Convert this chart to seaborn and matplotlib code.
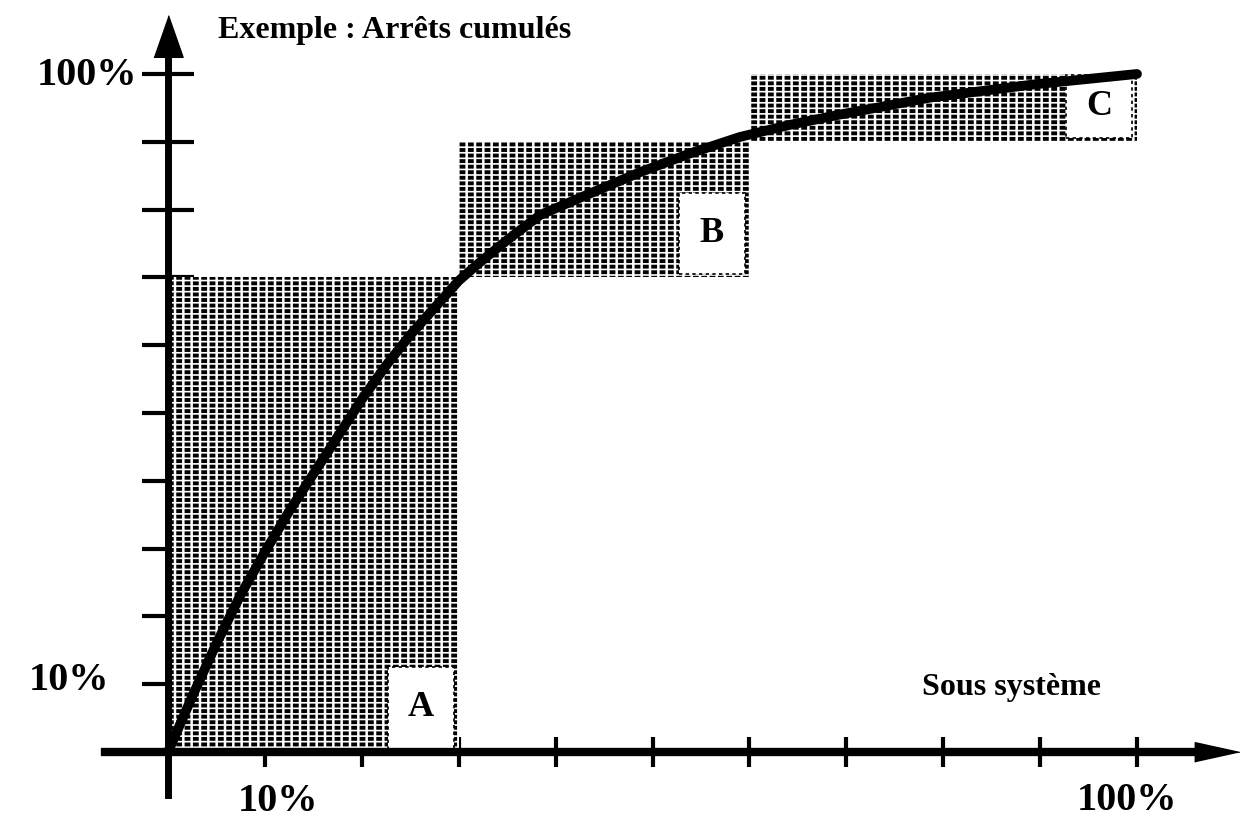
"""
Courbe ABC (Pareto) - arrêts cumulés par sous système
Libraries: matplotlib, seaborn
"""

import matplotlib
matplotlib.use("Agg")
import matplotlib.pyplot as plt
import seaborn as sns
from matplotlib.patches import Rectangle

# -------------------------------
# Data
# -------------------------------
pct_subsystems = [0, 2.5, 5, 7.5, 10, 12.5, 15, 17.5, 20, 22.5, 25, 27.5, 30,
                  32, 35, 38.4, 43.6, 48.7, 53.9, 59.0, 64.2, 69.3, 78.6, 89.0, 100]
pct_stops = [0, 8.2, 16, 23.2, 29.5, 35.5, 41, 46.5, 52, 57, 61.5, 65.5, 69.5,
             72.0, 75.5, 79.2, 82.4, 85.5, 88.3, 90.7, 92.5, 94.0, 96.5, 98.4, 100]

zone_labels = ["A", "B", "C"]
zone_x_end = [30, 60, 100]
zone_y_end = [70, 90, 100]

tick_values = [10, 20, 30, 40, 50, 60, 70, 80, 90, 100]

# -------------------------------
# Style settings
# -------------------------------
sns.set_theme(style="white")
plt.rcParams["font.family"] = ["Liberation Serif", "DejaVu Serif"]
plt.rcParams["font.weight"] = "bold"
plt.rcParams["text.color"] = "black"

fig = plt.figure(figsize=(12.43, 8.21), dpi=100)
ax = fig.add_axes([0, 0, 1, 1])
ax.set_xlim(-17.34, 110.94)
ax.set_ylim(-10.18, 110.91)

# -------------------------------
# Shaded zones A / B / C
# -------------------------------
x0, y0 = 0, 0
for label, x1, y1 in zip(zone_labels, zone_x_end, zone_y_end):
    with plt.rc_context({"hatch.linewidth": 4.2}):
        ax.add_patch(Rectangle((x0, y0), x1 - x0, y1 - y0, facecolor="white",
                               edgecolor="black", hatch="||", lw=0, zorder=1))
    with plt.rc_context({"hatch.linewidth": 1.2}):
        ax.add_patch(Rectangle((x0, y0), x1 - x0, y1 - y0, facecolor="none",
                               edgecolor="white", hatch="---", lw=0, zorder=1.1))
    # white label box at the bottom-right corner of the zone
    bw, bh = 6.8, min(12, y1 - y0 - 0.6)
    ax.add_patch(Rectangle((x1 - bw - 0.5, y0 + 0.5), bw, bh, facecolor="white",
                           edgecolor="black", ls=(0, (2, 2)), lw=1.2, zorder=1.5))
    ax.text(x1 - 0.5 - bw / 2, y0 + 0.5 + bh / 2, label, fontsize=26,
            fontweight="bold", ha="center", va="center", zorder=1.6)
    x0, y0 = x1, y1

# -------------------------------
# Cumulative curve
# -------------------------------
sns.lineplot(x=pct_subsystems, y=pct_stops, color="black", lw=7, ax=ax, zorder=3)

# -------------------------------
# Axes drawn through the origin with arrows
# -------------------------------
for side in ["top", "right"]:
    ax.spines[side].set_visible(False)
ax.spines["left"].set_position(("data", 0))
ax.spines["bottom"].set_position(("data", 0))
ax.spines["left"].set_bounds(-6.3, 104)
ax.spines["bottom"].set_bounds(-6.5, 107)
ax.spines["left"].set_linewidth(5)
ax.spines["bottom"].set_linewidth(6)
ax.spines["left"].set_color("black")
ax.spines["bottom"].set_color("black")

ax.set_xticks(tick_values)
ax.set_yticks(tick_values)
ax.set_xticklabels([])
ax.set_yticklabels([])
ax.tick_params(axis="x", direction="inout", length=22, width=3, color="black", bottom=True)
ax.tick_params(axis="y", direction="inout", length=37, width=3, color="black", left=True)

ax.plot([0], [105.6], marker=[(-0.35, -0.5), (0.35, -0.5), (0, 0.5)], ms=30,
        color="black", clip_on=False)
ax.plot([108.3], [0], marker=[(-0.5, -0.22), (-0.5, 0.22), (0.5, 0)], ms=32,
        color="black", clip_on=False)

# -------------------------------
# Texts
# -------------------------------
ax.text(5.2, 105.3, "Exemple : Arrêts cumulés", fontsize=23, fontweight="bold")
ax.text(77.8, 8.4, "Sous système", fontsize=23, fontweight="bold")
ax.text(-13.5, 98.4, "100%", fontsize=29, fontweight="bold")
ax.text(-14.4, 9.1, "10%", fontsize=29, fontweight="bold")
ax.text(7.2, -8.7, "10%", fontsize=29, fontweight="bold")
ax.text(93.8, -8.5, "100%", fontsize=29, fontweight="bold")

plt.savefig("out.png", dpi=100)
